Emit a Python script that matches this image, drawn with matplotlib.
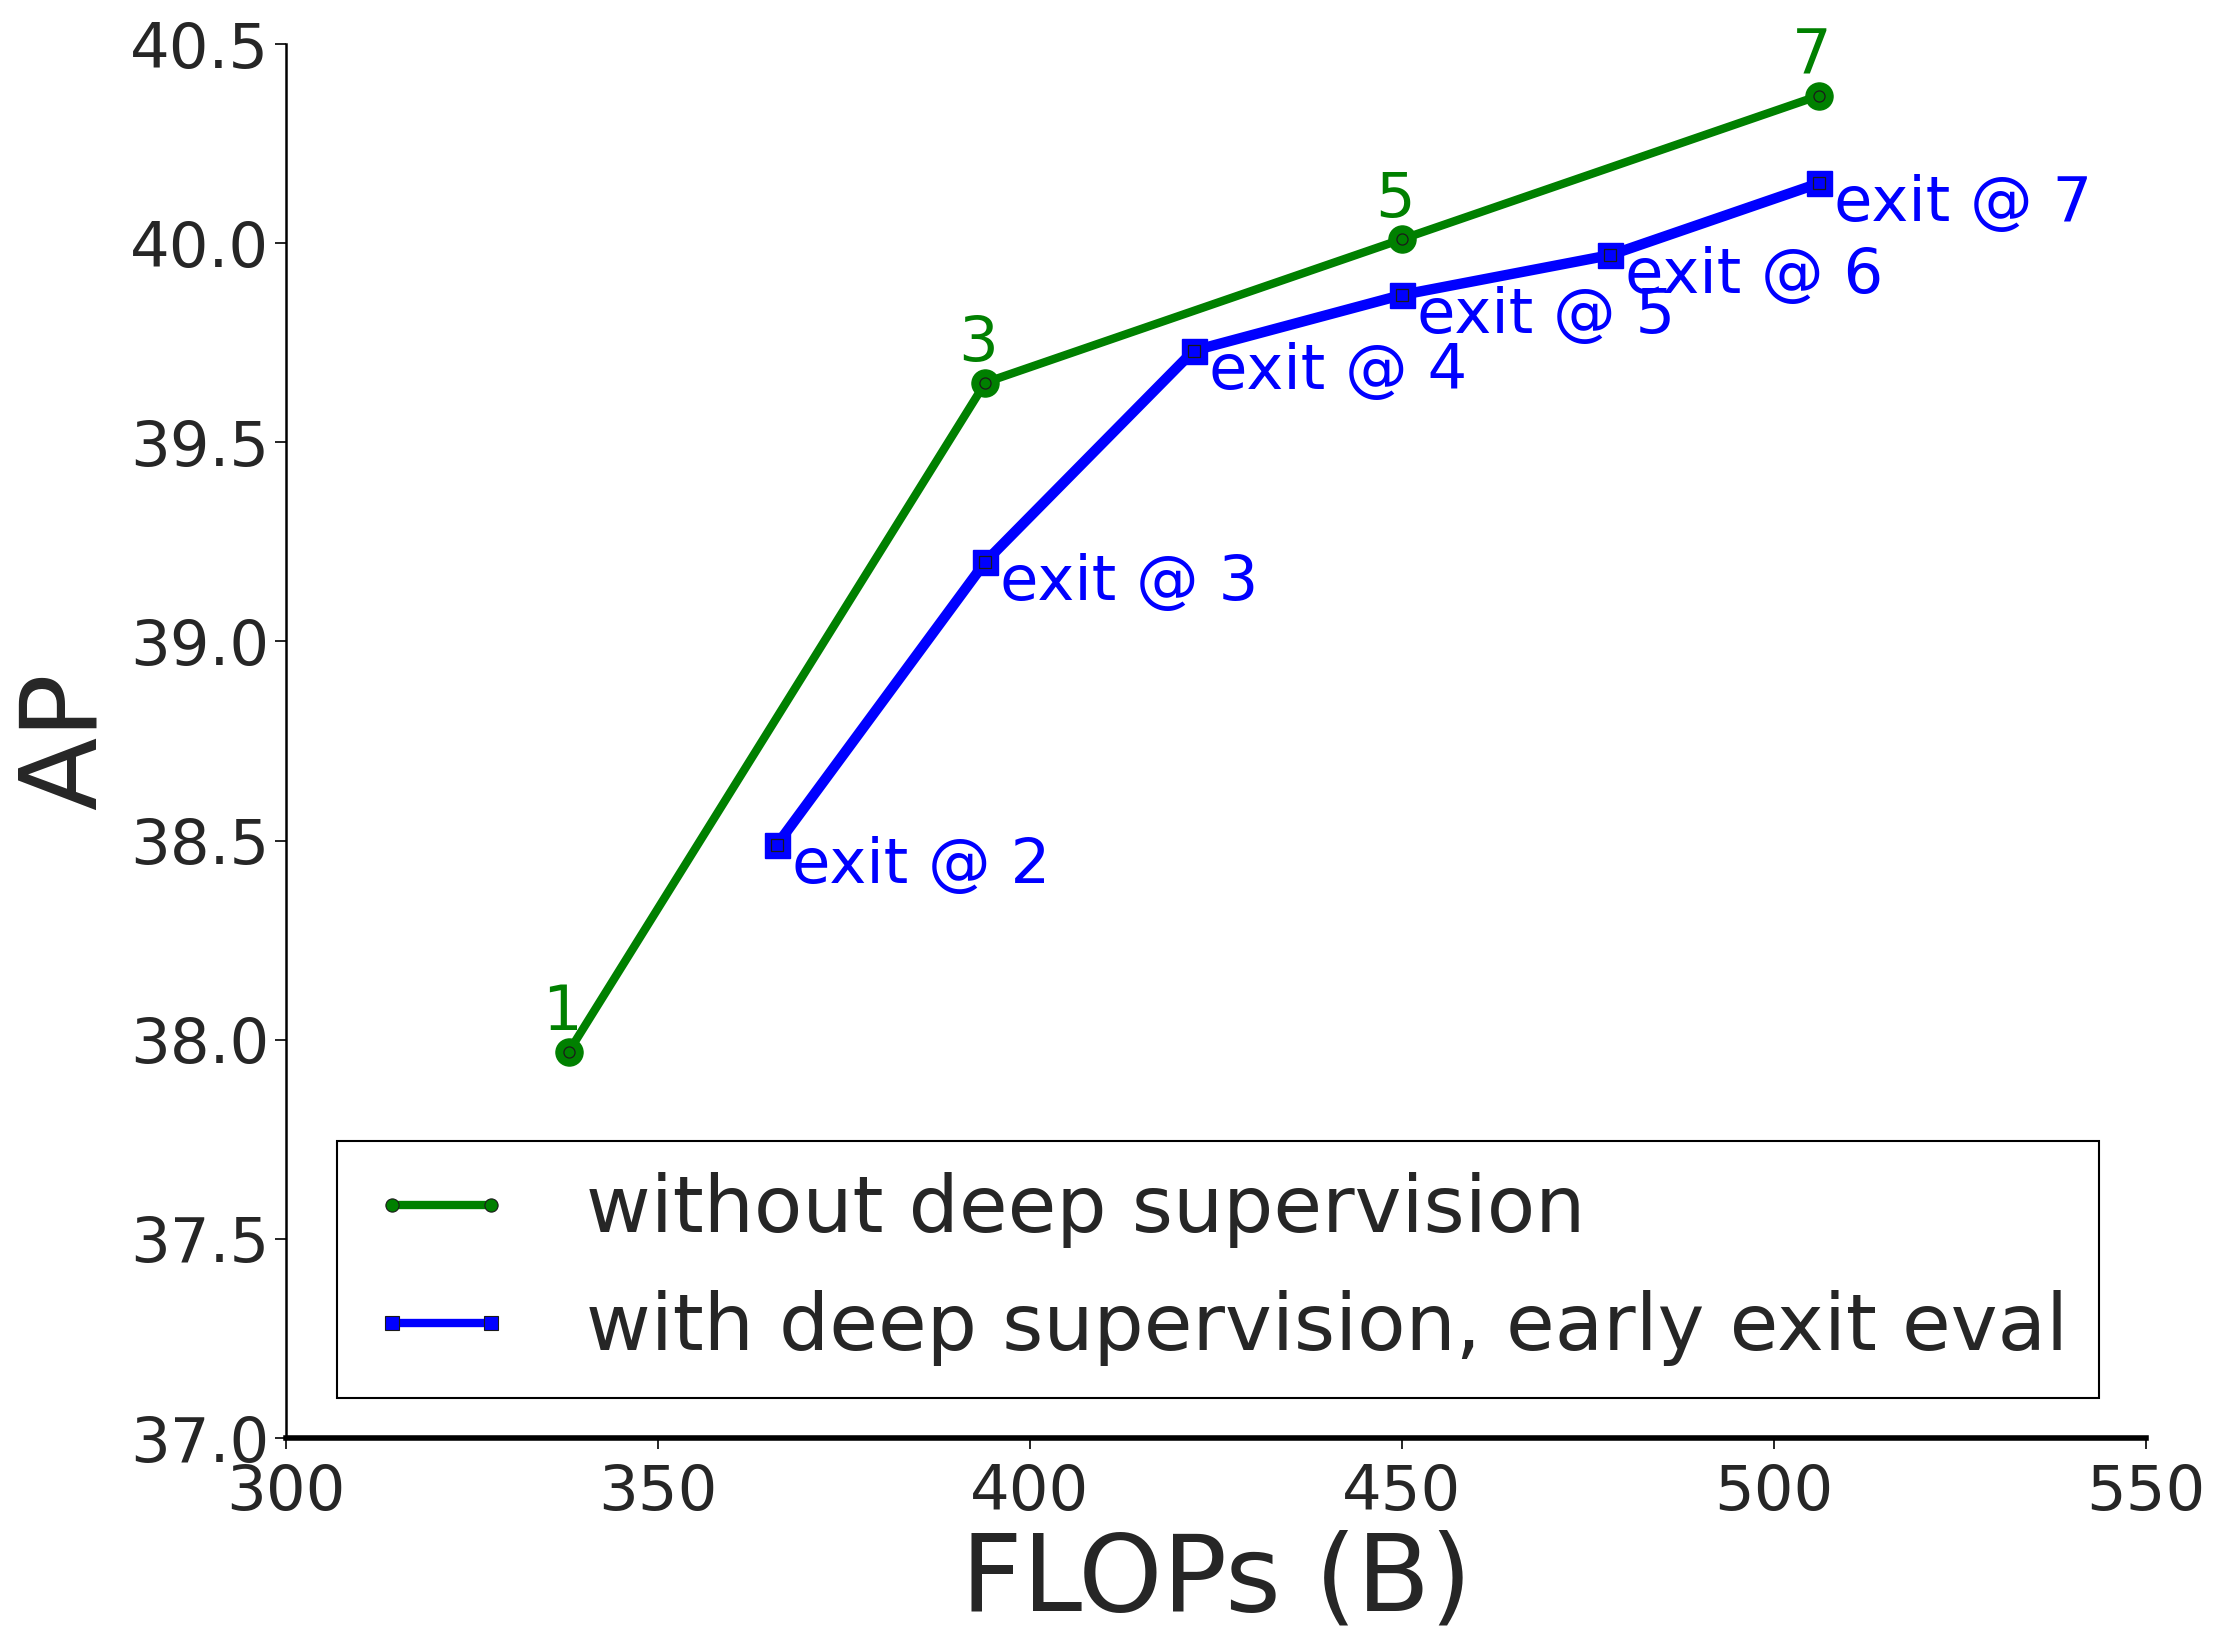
import matplotlib
matplotlib.use("Agg")
import matplotlib.pyplot as plt
from matplotlib.lines import Line2D

# data
flops_nods = [338, 394, 450, 506]
ap_nods = [37.97, 39.65, 40.01, 40.37]
labels_nods = ["1", "3", "5", "7"]

flops_ds = [366, 394, 422, 450, 478, 506]
ap_ds = [38.49, 39.20, 39.73, 39.87, 39.97, 40.15]
labels_ds = ["exit @ 2", "exit @ 3", "exit @ 4", "exit @ 5", "exit @ 6", "exit @ 7"]

xticks = [300, 350, 400, 450, 500, 550]
yticks = [37.0, 37.5, 38.0, 38.5, 39.0, 39.5, 40.0, 40.5]

plt.rcParams['font.family'] = ['DejaVu Sans']
txtc = '#262626'

fig = plt.figure(figsize=(22.21, 16.48), dpi=100)
ax = fig.add_axes([0.1288, 0.1274, 0.8374, 0.8459])

G = '#008000'
B = '#0000ff'
EC = '#1a1a1a'

ax.plot(flops_nods, ap_nods, '-', color=G, lw=6, marker='o', ms=19.5, mfc=G, mec=G, zorder=3)
ax.plot(flops_nods, ap_nods, 'none', marker='o', ms=8, mfc=G, mec=EC, mew=0.9, zorder=4)
ax.plot(flops_ds, ap_ds, '-', color=B, lw=7.5, marker='s', ms=18, mfc=B, mec=B, zorder=3)
ax.plot(flops_ds, ap_ds, 'none', marker='s', ms=8.5, mfc=B, mec=EC, mew=0.9, zorder=4)

for x, y, t in zip(flops_nods, ap_nods, labels_nods):
    ax.annotate(t, (x, y), xytext=(-7, 22), textcoords='offset pixels',
                ha='center', va='baseline', color=G, fontsize=45)
for x, y, t in zip(flops_ds, ap_ds, labels_ds):
    ax.annotate(t, (x, y), xytext=(15, -38), textcoords='offset pixels',
                ha='left', va='baseline', color=B, fontsize=45)

ax.set_xlim(300, 550)
ax.set_ylim(37.0, 40.5)
ax.set_xticks(xticks)
ax.set_yticks(yticks)
ax.set_xticklabels([str(v) for v in xticks])
ax.set_yticklabels([f"{v:.1f}" for v in yticks])
ax.tick_params(axis='both', labelsize=45, colors='black', labelcolor=txtc,
               length=8, width=1.2, direction='out')
ax.tick_params(axis='x', pad=10)
ax.tick_params(axis='y', pad=4)

for s in ['top', 'right']:
    ax.spines[s].set_visible(False)
ax.spines['left'].set_linewidth(1.8)
ax.spines['bottom'].set_linewidth(4)
ax.spines['left'].set_color('black')
ax.spines['bottom'].set_color('black')

ax.set_xlabel("FLOPs (B)", fontsize=77, color=txtc, labelpad=5)
ax.set_ylabel("AP", fontsize=77, color=txtc, labelpad=9)

handles = [
    Line2D([0], [0], color=G, lw=6, marker='o', ms=9.5, mfc=G, mec=EC, mew=0.8),
    Line2D([0], [0], color=B, lw=6, marker='s', ms=9.5, mfc=B, mec=EC, mew=0.8),
]
leg = ax.legend(handles, ["without deep supervision", "with deep supervision, early exit eval"],
                loc='lower left', bbox_to_anchor=(0.0274, 0.0287), fontsize=57,
                frameon=True, fancybox=False, edgecolor='black', framealpha=1,
                handlelength=1.84, handletextpad=0.9, labelspacing=0.53, borderpad=0.4,
                numpoints=2, borderaxespad=0)
leg.get_frame().set_linewidth(1.5)
for t in leg.get_texts():
    t.set_color(txtc)

fig.savefig("out.png", dpi=100)
